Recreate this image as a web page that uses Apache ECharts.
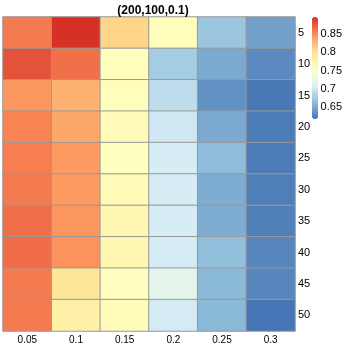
<!DOCTYPE html>
<html>
<head>
<meta charset="utf-8">
<script src="https://cdn.jsdelivr.net/npm/echarts@6/dist/echarts.min.js"></script>
<style>
html, body { margin: 0; padding: 0; background: #fff; }
#chart { width: 345px; height: 345px; }
</style>
</head>
<body>
<div id="chart"></div>
<script>
var cols = ['0.05', '0.1', '0.15', '0.2', '0.25', '0.3'];
var rows = ['5', '10', '15', '20', '25', '30', '35', '40', '45', '50'];
// one array per row, values for columns 0.05 .. 0.3
var r5  = [0.860, 0.897, 0.810, 0.760, 0.670, 0.645];
var r10 = [0.880, 0.865, 0.760, 0.675, 0.650, 0.630];
var r15 = [0.845, 0.830, 0.760, 0.690, 0.635, 0.619];
var r20 = [0.855, 0.835, 0.765, 0.700, 0.650, 0.622];
var r25 = [0.858, 0.843, 0.757, 0.705, 0.662, 0.622];
var r30 = [0.860, 0.843, 0.765, 0.705, 0.652, 0.623];
var r35 = [0.866, 0.845, 0.770, 0.705, 0.652, 0.624];
var r40 = [0.867, 0.847, 0.770, 0.704, 0.664, 0.628];
var r45 = [0.860, 0.795, 0.758, 0.720, 0.660, 0.628];
var r50 = [0.860, 0.780, 0.762, 0.703, 0.660, 0.617];
var grid = [r5, r10, r15, r20, r25, r30, r35, r40, r45, r50];
var legendTicks = [0.65, 0.7, 0.75, 0.8, 0.85];

var palette = ['#4575B4', '#91BFDB', '#E0F3F8', '#FFFFBF', '#FEE090', '#FC8D59', '#D73027'];
var vmin = 0.617, vmax = 0.897;

var data = [];
grid.forEach(function (row, i) {
    row.forEach(function (v, j) {
        data.push([j, i, v]);
    });
});

echarts.init(document.getElementById('chart')).setOption({
    animation: false,
    title: {
        text: '(200,100,0.1)',
        left: 148,
        textAlign: 'center',
        top: 0,
        textStyle: { fontSize: 12, fontWeight: 'bold', color: '#000', fontFamily: 'Liberation Sans' }
    },
    grid: [
        { left: 3, top: 17, width: 292, height: 314 },
        { left: 312, top: 17, width: 6, height: 102 }
    ],
    xAxis: [
        {
            type: 'category',
            data: cols,
            gridIndex: 0,
            position: 'bottom',
            axisLine: { show: false },
            axisTick: { show: false },
            axisLabel: { fontSize: 10, color: '#000', margin: 4, fontFamily: 'Liberation Sans' },
            splitLine: { show: false }
        },
        {
            type: 'value',
            gridIndex: 1,
            show: false
        }
    ],
    yAxis: [
        {
            type: 'category',
            data: rows,
            inverse: true,
            gridIndex: 0,
            position: 'right',
            axisLine: { show: false },
            axisTick: { show: false },
            axisLabel: { fontSize: 11, color: '#000', margin: 3, fontFamily: 'Liberation Sans', align: 'left' },
            splitLine: { show: false }
        },
        {
            type: 'value',
            gridIndex: 1,
            position: 'right',
            min: vmin,
            max: vmax,
            axisLine: { show: false },
            axisTick: { show: false },
            splitLine: { show: false },
            axisLabel: {
                customValues: legendTicks,
                fontSize: 11,
                color: '#000',
                margin: 4,
                fontFamily: 'Liberation Sans',
                formatter: function (v) { return String(+v.toFixed(2)); }
            }
        }
    ],
    visualMap: {
        type: 'continuous',
        min: vmin,
        max: vmax,
        seriesIndex: 0,
        calculable: false,
        left: 312,
        top: 17,
        itemWidth: 6,
        itemHeight: 102,
        text: ['', ''],
        showLabel: false,
        padding: 0,
        inRange: { color: palette }
    },
    series: [
        {
            type: 'heatmap',
            xAxisIndex: 0,
            yAxisIndex: 0,
            data: data,
            itemStyle: { borderColor: '#999999', borderWidth: 1 },
            label: { show: false },
            emphasis: { disabled: true }
        }
    ]
});
</script>
</body>
</html>
